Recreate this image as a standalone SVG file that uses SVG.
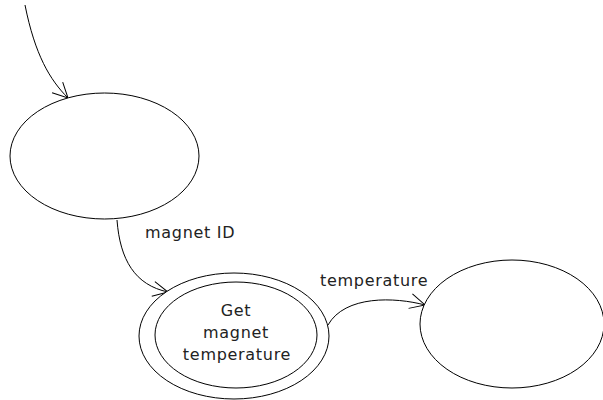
<svg xmlns="http://www.w3.org/2000/svg" width="603" height="400" viewBox="0 0 603 400">
<defs>
<marker id="arr" markerUnits="userSpaceOnUse" markerWidth="20" markerHeight="20" refX="0" refY="0" viewBox="-17 -10 20 20" orient="auto" overflow="visible">
<path d="M-15,-7.5 L0,0 L-15,7.5" fill="none" stroke="#000" stroke-width="1"/>
</marker>
</defs>
<style>
.n{fill:#fff;stroke:#000;stroke-width:1}
.c{fill:none;stroke:#000;stroke-width:1;marker-end:url(#arr)}
.t{font-family:"DejaVu Sans",sans-serif;font-size:16px;fill:#222;letter-spacing:0.7px}
</style>
<g id="connectors">
<path class="c" d="M25,5 C35,55 50,80 68,98"/>
<path class="c" d="M117,220 C120,260 135,285 168,292"/>
<path class="c" d="M328,325 C345,295 395,297 425,305"/>
<text class="t" x="145" y="238">magnet ID</text>
<text class="t" x="320" y="286">temperature</text>
</g>
<g id="node1">
<ellipse class="n" cx="104.5" cy="156" rx="94.5" ry="63"/>
</g>
<g id="node2">
<ellipse class="n" cx="234" cy="336" rx="95" ry="63"/>
<ellipse class="n" cx="236" cy="335" rx="81" ry="53"/>
<text class="t" text-anchor="middle" x="236" y="316">Get</text>
<text class="t" text-anchor="middle" x="236" y="338">magnet</text>
<text class="t" text-anchor="middle" x="237" y="360">temperature</text>
</g>
<g id="node3">
<ellipse class="n" cx="512" cy="324" rx="92" ry="64"/>
</g>
</svg>
